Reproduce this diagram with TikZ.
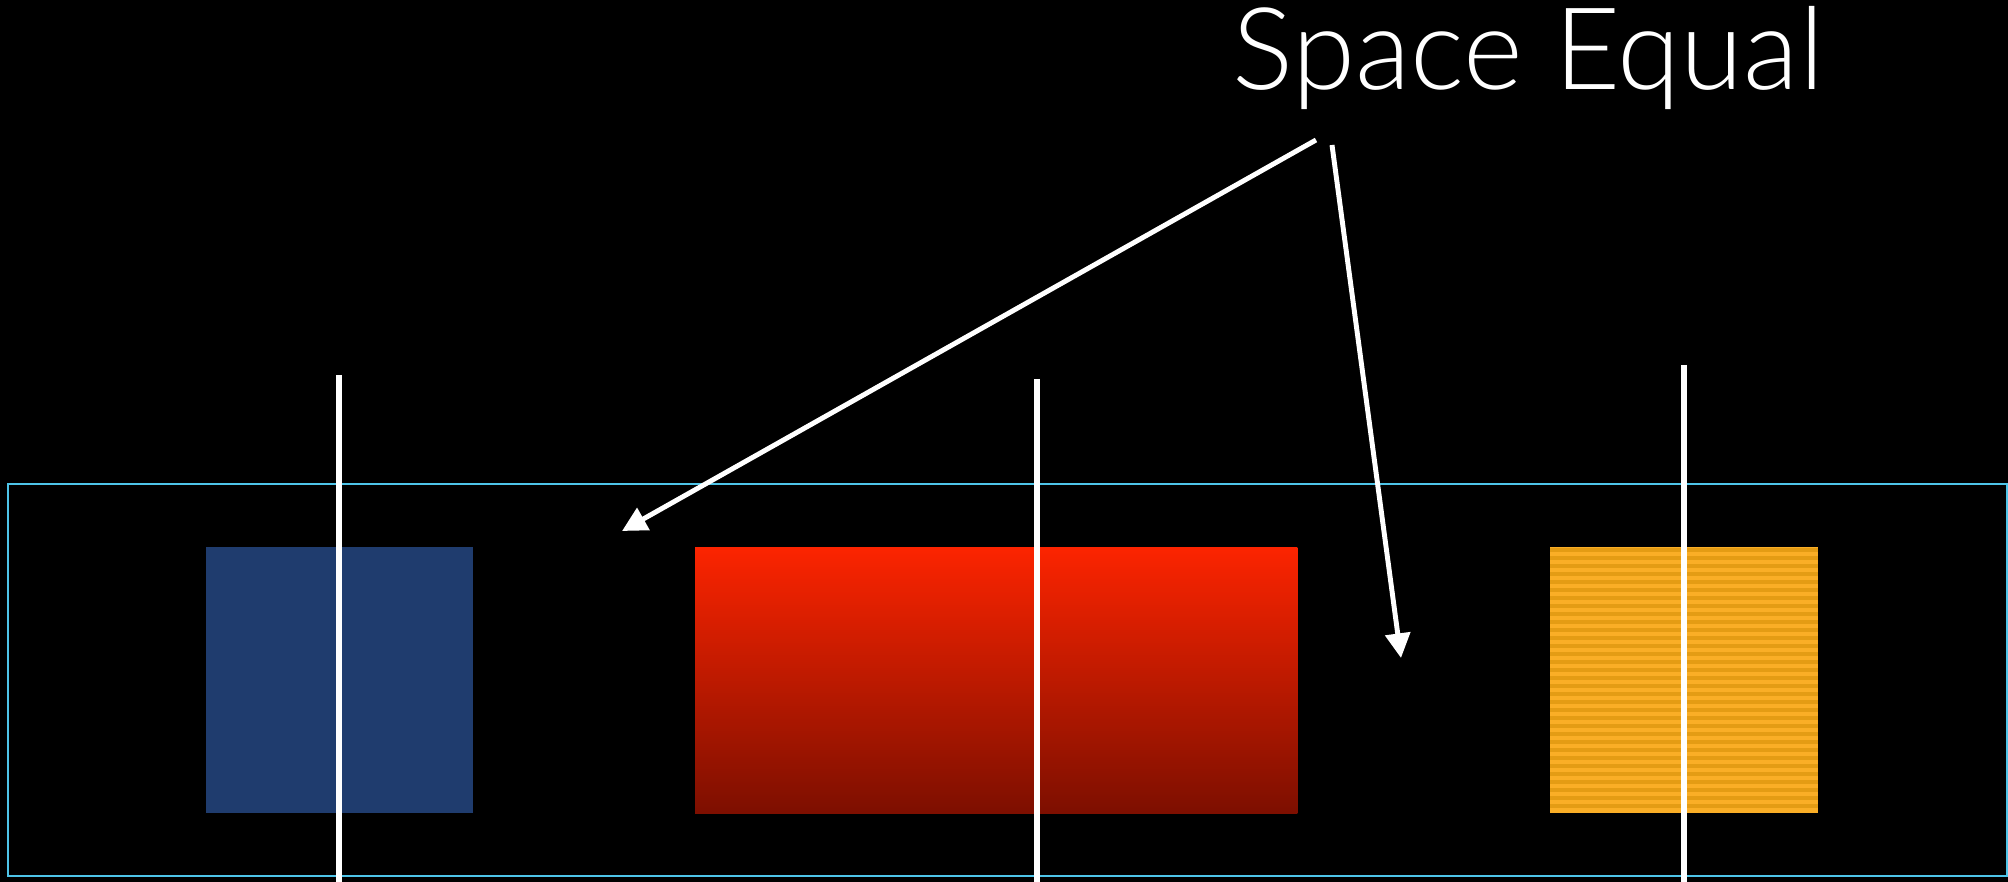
\documentclass[tikz,border=0pt]{standalone}
\usepackage{fontspec}
\setmainfont{Lato}[UprightFont=* Light]
\usetikzlibrary{arrows.meta,positioning,calc}
\definecolor{frameblue}{RGB}{78,196,232}
\definecolor{boxblue}{RGB}{31,60,110}
\definecolor{redtop}{RGB}{252,36,0}
\definecolor{redbot}{RGB}{125,15,0}
\definecolor{orangelight}{RGB}{250,174,38}
\definecolor{orangedark}{RGB}{228,156,20}
\tikzset{
	item/.style={rectangle, inner sep=0pt, outer sep=0pt, minimum height=2.66cm, anchor=north west},
	guide/.style={white, line width=1.5pt},
	pointer/.style={-{Triangle[length=7pt,width=7pt]}, white, line width=1.4pt},
}

\begin{document}
\begin{tikzpicture}[x=0.01cm, y=-0.01cm]
			\fill[black] (0,0) rectangle (2008,882);
			\useasboundingbox (0,0) rectangle (2008,882);
			
			% container
			\node[item, draw=frameblue, line width=0.7pt, minimum width=19.98cm, minimum height=3.92cm] (frame) at (8,484) {};
			
			% the three boxes
			\node[item, fill=boxblue, minimum width=2.67cm] (blue) at (206,547) {};
			\node[item, top color=redtop, bottom color=redbot, minimum width=6.02cm] (red) at (695,547) {};
			\node[item, fill=orangelight, minimum width=2.68cm] (orange) at (1550,547) {};
			\foreach \i in {0,...,32}
				\fill[orangedark] ($(orange.north west)+(0,8*\i+1)$) rectangle ++(268,4);
			
			% guides
			\foreach \x/\y in {339/375, 1037/379, 1684/365}
				\draw[guide] (\x,\y) -- (\x,882);
			
			% label and pointers
			\node[white, inner sep=0pt, anchor=base west, font=\fontsize{32.5}{39}\selectfont] (title) at (1232,90) {Space Equal};
			\coordinate (tailA) at (1316,140);
			\coordinate (tailB) at (1332,145);
			\coordinate (gapA) at (622,531);
			\coordinate (gapB) at (1401,658);
			\draw[pointer] (tailA) -- (gapA);
			\draw[pointer] (tailB) -- (gapB);
\end{tikzpicture}
\end{document}
